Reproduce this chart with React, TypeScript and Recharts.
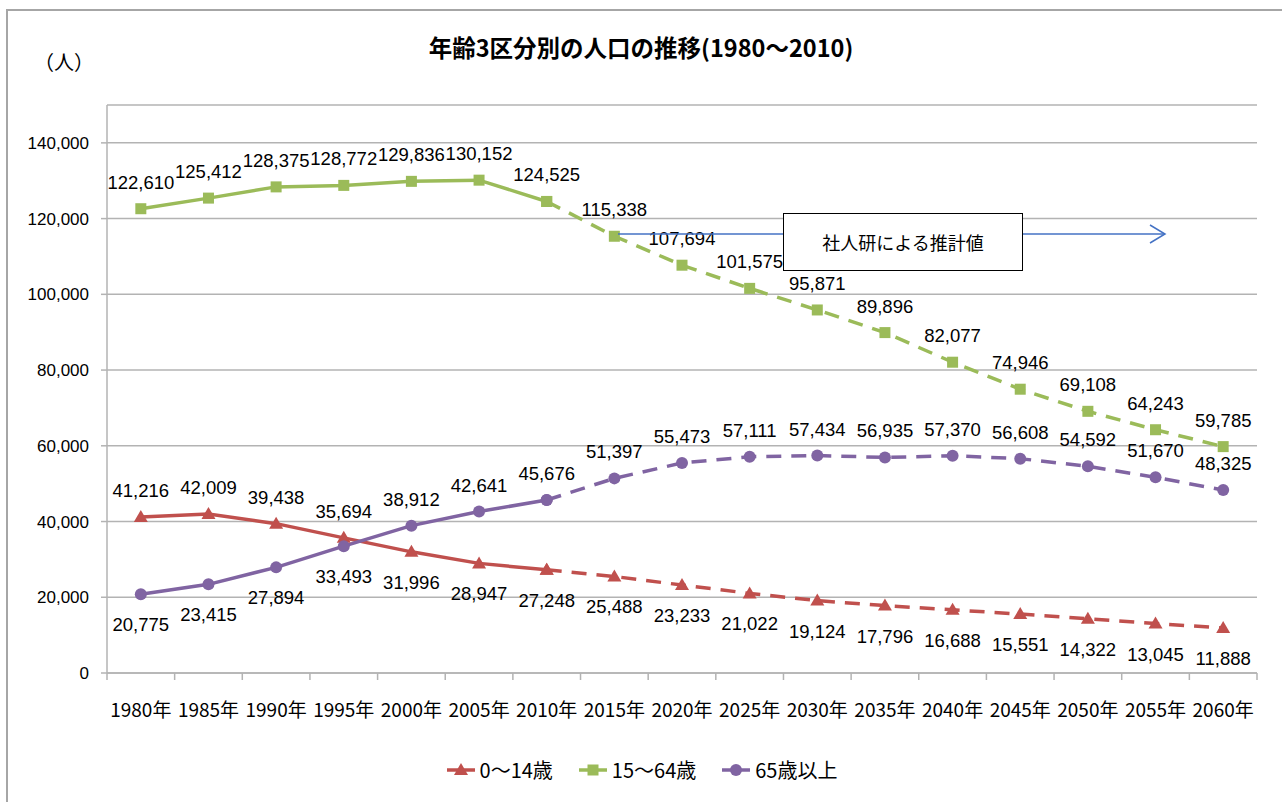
import { LineChart, Line, XAxis, YAxis, CartesianGrid, LabelList } from 'recharts'

const YEARS = ['1980年', '1985年', '1990年', '1995年', '2000年', '2005年', '2010年', '2015年', '2020年',
  '2025年', '2030年', '2035年', '2040年', '2045年', '2050年', '2055年', '2060年']
const AGE_0_14 = [41216, 42009, 39438, 35694, 31996, 28947, 27248, 25488, 23233, 21022, 19124, 17796, 16688,
  15551, 14322, 13045, 11888]
const AGE_15_64 = [122610, 125412, 128375, 128772, 129836, 130152, 124525, 115338, 107694, 101575, 95871, 89896,
  82077, 74946, 69108, 64243, 59785]
const AGE_65_UP = [20775, 23415, 27894, 33493, 38912, 42641, 45676, 51397, 55473, 57111, 57434, 56935, 57370,
  56608, 54592, 51670, 48325]
const Y_TICKS = [0, 20000, 40000, 60000, 80000, 100000, 120000, 140000]
const LAST_ACTUAL = 6 // 2010年まで実績、以降は推計

const RED = '#C0504D'
const GREEN = '#9BBB59'
const PURPLE = '#8064A2'
const GRID = '#b3b3b3'

const W = 1282
const H = 802
const PLOT = { left: 107, right: 1257, top: 105, bottom: 673 }
const BAND = (PLOT.right - PLOT.left) / YEARS.length

const JP = "'Noto Sans CJK JP', sans-serif"
const NUM = "'Liberation Sans', sans-serif"

const fmt = (v: number) => v.toLocaleString('en-US')

const data = YEARS.map((year, i) => ({
  year,
  young: i <= LAST_ACTUAL ? AGE_0_14[i] : null,
  youngP: i >= LAST_ACTUAL ? AGE_0_14[i] : null,
  work: i <= LAST_ACTUAL ? AGE_15_64[i] : null,
  workP: i >= LAST_ACTUAL ? AGE_15_64[i] : null,
  old: i <= LAST_ACTUAL ? AGE_65_UP[i] : null,
  oldP: i >= LAST_ACTUAL ? AGE_65_UP[i] : null,
}))

type Shape = 'triangle' | 'square' | 'circle'

function Marker({ shape, color, cx, cy }: { shape: Shape; color: string; cx: number; cy: number }) {
  if (shape === 'triangle')
    return <polygon points={`${cx},${cy - 7} ${cx - 7},${cy + 5} ${cx + 7},${cy + 5}`} fill={color} />
  if (shape === 'square') return <rect x={cx - 5.5} y={cy - 5.5} width={11} height={11} fill={color} />
  return <circle cx={cx} cy={cy} r={6} fill={color} />
}

const dot = (shape: Shape, color: string) => (p: any) => {
  if (p.cx == null || p.cy == null || p.value == null) return <g key={`d${p.index}`} />
  return <Marker key={`d${p.index}`} shape={shape} color={color} cx={p.cx} cy={p.cy} />
}

// 0～14歳と65歳以上は交差するので、上にある方のラベルを上、下にある方を下へ
const isAbove = (series: number[], other: number[] | null) => (i: number) => !other || series[i] >= other[i]

const label = (above: (i: number) => boolean, from: number, to: number) => (p: any) => {
  const { x, y, value, index } = p
  if (value == null || index < from || index > to) return null
  const up = above(index)
  return (
    <text x={x} y={up ? y - 20 : y + 37} textAnchor="middle" fontSize={18.5} fontFamily={NUM} fill="#000">
      {fmt(value)}
    </text>
  )
}

const XTick = (p: any) => {
  const { x, payload, index } = p
  const gx = x - BAND / 2
  return (
    <g>
      <line x1={gx} x2={gx} y1={PLOT.bottom} y2={PLOT.bottom + 7} stroke={GRID} strokeWidth={1.5} />
      {index === YEARS.length - 1 && (
        <line x1={x + BAND / 2} x2={x + BAND / 2} y1={PLOT.bottom} y2={PLOT.bottom + 7} stroke={GRID} strokeWidth={1.5} />
      )}
      <text x={x} y={PLOT.bottom + 44} textAnchor="middle" fontSize={19} fontFamily={JP} fill="#000">
        {payload.value}
      </text>
    </g>
  )
}

const SERIES = [
  { key: 'young', name: '0～14歳', color: RED, shape: 'triangle' as Shape, above: isAbove(AGE_0_14, AGE_65_UP) },
  { key: 'work', name: '15～64歳', color: GREEN, shape: 'square' as Shape, above: isAbove(AGE_15_64, null) },
  { key: 'old', name: '65歳以上', color: PURPLE, shape: 'circle' as Shape, above: isAbove(AGE_65_UP, AGE_0_14) },
]

function LegendBox() {
  return (
    <div style={{ position: 'absolute', left: 0, width: W, top: 755, display: 'flex', justifyContent: 'center', gap: 24 }}>
      {SERIES.map((s) => (
        <div key={s.key} style={{ display: 'flex', alignItems: 'center', fontFamily: JP, fontSize: 20 }}>
          <svg width={32} height={20}>
            <line x1={2} x2={30} y1={10} y2={10} stroke={s.color} strokeWidth={3.5} />
            <Marker shape={s.shape} color={s.color} cx={16} cy={10} />
          </svg>
          <span style={{ marginLeft: 3 }}>{s.name}</span>
        </div>
      ))}
    </div>
  )
}

export default function App() {
  return (
    <div style={{ position: 'absolute', left: 0, top: 0, width: W, height: H, overflow: 'hidden', background: '#fff' }}>
      <div style={{ position: 'absolute', left: 6, top: 9, width: 1400, height: 900, border: '2.5px solid #a6a6a6' }} />
      <div style={{ position: 'absolute', left: 0, width: W, top: 31, textAlign: 'center', fontFamily: JP,
        fontWeight: 'bold', fontSize: 23.5, lineHeight: '32px' }}>
        年齢3区分別の人口の推移(1980～2010)
      </div>
      <div style={{ position: 'absolute', left: 34, top: 47, fontFamily: JP, fontSize: 20, lineHeight: '30px' }}>
        （人）
      </div>
      <div style={{ position: 'absolute', left: 0, top: 0 }}>
        <LineChart width={W} height={H} data={data}
          margin={{ top: PLOT.top, right: W - PLOT.right, left: 0, bottom: H - PLOT.bottom - 40 }}>
          <CartesianGrid vertical={false} stroke={GRID} strokeWidth={1.5} />
          <XAxis dataKey="year" interval={0} height={40} padding={{ left: BAND / 2, right: BAND / 2 }}
            axisLine={{ stroke: GRID, strokeWidth: 1.5 }} tickLine={false} tick={<XTick />} />
          <YAxis width={PLOT.left} domain={[0, 150000]} ticks={Y_TICKS} tickFormatter={fmt}
            axisLine={{ stroke: GRID, strokeWidth: 1.5 }} tickLine={{ stroke: GRID, strokeWidth: 1.5 }}
            tickSize={6} tickMargin={12} tick={{ fontSize: 17, fill: '#000', fontFamily: NUM }} />
          {SERIES.map((s) => (
            <Line key={s.key} dataKey={s.key} stroke={s.color} strokeWidth={3.5} dot={dot(s.shape, s.color)}
              isAnimationActive={false}>
              <LabelList dataKey={s.key} content={label(s.above, 0, LAST_ACTUAL)} />
            </Line>
          ))}
          {SERIES.map((s) => (
            <Line key={s.key + 'P'} dataKey={s.key + 'P'} stroke={s.color} strokeWidth={3.5} strokeDasharray="15 10"
              dot={dot(s.shape, s.color)} isAnimationActive={false}>
              <LabelList dataKey={s.key + 'P'} content={label(s.above, LAST_ACTUAL + 1, YEARS.length - 1)} />
            </Line>
          ))}
        </LineChart>
      </div>
      <svg style={{ position: 'absolute', left: 0, top: 0 }} width={W} height={H}>
        <line x1={618} x2={1165} y1={234} y2={234} stroke="#4472C4" strokeWidth={1.5} />
        <polyline points="1150,225 1165,234 1150,243" fill="none" stroke="#4472C4" strokeWidth={1.5} />
      </svg>
      <div style={{ position: 'absolute', left: 783, top: 213, width: 238, height: 56, border: '1.5px solid #000',
        background: '#fff', display: 'flex', alignItems: 'center', justifyContent: 'center', fontFamily: JP,
        fontSize: 18 }}>
        社人研による推計値
      </div>
      <LegendBox />
    </div>
  )
}
